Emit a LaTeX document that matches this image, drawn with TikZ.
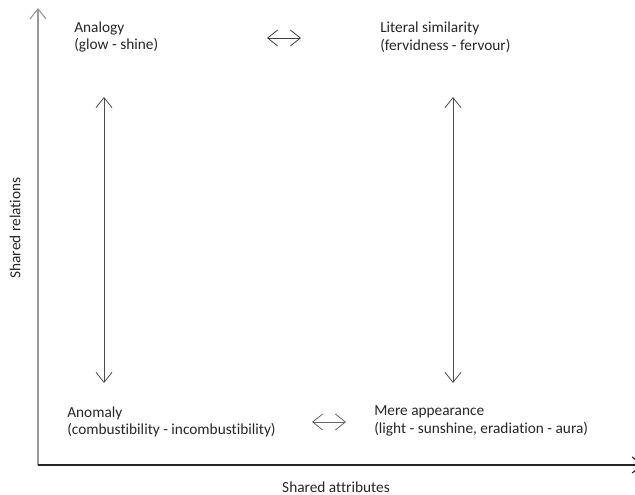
\documentclass[tikz,border=0pt]{standalone}
\usepackage{fontspec}
\setmainfont[Ligatures={NoCommon}]{Carlito}
\usetikzlibrary{arrows.meta}
\begin{document}
\begin{tikzpicture}[x=0.75pt,y=-0.75pt,
  lbl/.style={anchor=west,align=left,inner sep=0pt,font=\fontsize{11.5}{13.2}\selectfont,text=black!85},
  axlbl/.style={inner sep=0pt,font=\fontsize{11.5}{13.2}\selectfont,text=black!85},
  dbl/.style={{Straight Barb[length=7.5pt,width=12pt]}-{Straight Barb[length=7.5pt,width=12pt]},line width=0.6pt},
]
\useasboundingbox (0,0) rectangle (635,495);
% axes
\coordinate (o) at (38,465);
\coordinate (ytop) at (38,8);
\coordinate (xend) at (643,465);
\draw[gray!80,line width=0.8pt,-{Straight Barb[length=7.5pt,width=12pt]}] (o) -- (ytop);
\draw[black!85,line width=0.8pt,-{Straight Barb[length=7.5pt,width=12pt]}] (o) -- (xend);
\node[axlbl] (xl) at (336,487) {Shared attributes};
\node[axlbl,rotate=90] (yl) at (15,228) {Shared relations};
% labels
\node[lbl] (analogy) at (74,37) {Analogy\\(glow - shine)};
\node[lbl] (literal) at (380,37) {Literal similarity\\(fervidness - fervour)};
\node[lbl] (anomaly) at (67,422) {Anomaly\\(combustibility - incombustibility)};
\node[lbl] (mere) at (374,421) {Mere appearance\\(light - sunshine, eradiation - aura)};
% connectors
\coordinate (ta1) at (267,38); \coordinate (ta2) at (301,38);
\draw[dbl,black!75] (ta1) -- (ta2);
\coordinate (ba1) at (312,422); \coordinate (ba2) at (346,422);
\draw[dbl,black!60] (ba1) -- (ba2);
\coordinate (lv1) at (104,97); \coordinate (lv2) at (104,383);
\draw[dbl,black!70] (lv1) -- (lv2);
\coordinate (rv1) at (453,97); \coordinate (rv2) at (453,383);
\draw[dbl,black!70] (rv1) -- (rv2);
\end{tikzpicture}
\end{document}
